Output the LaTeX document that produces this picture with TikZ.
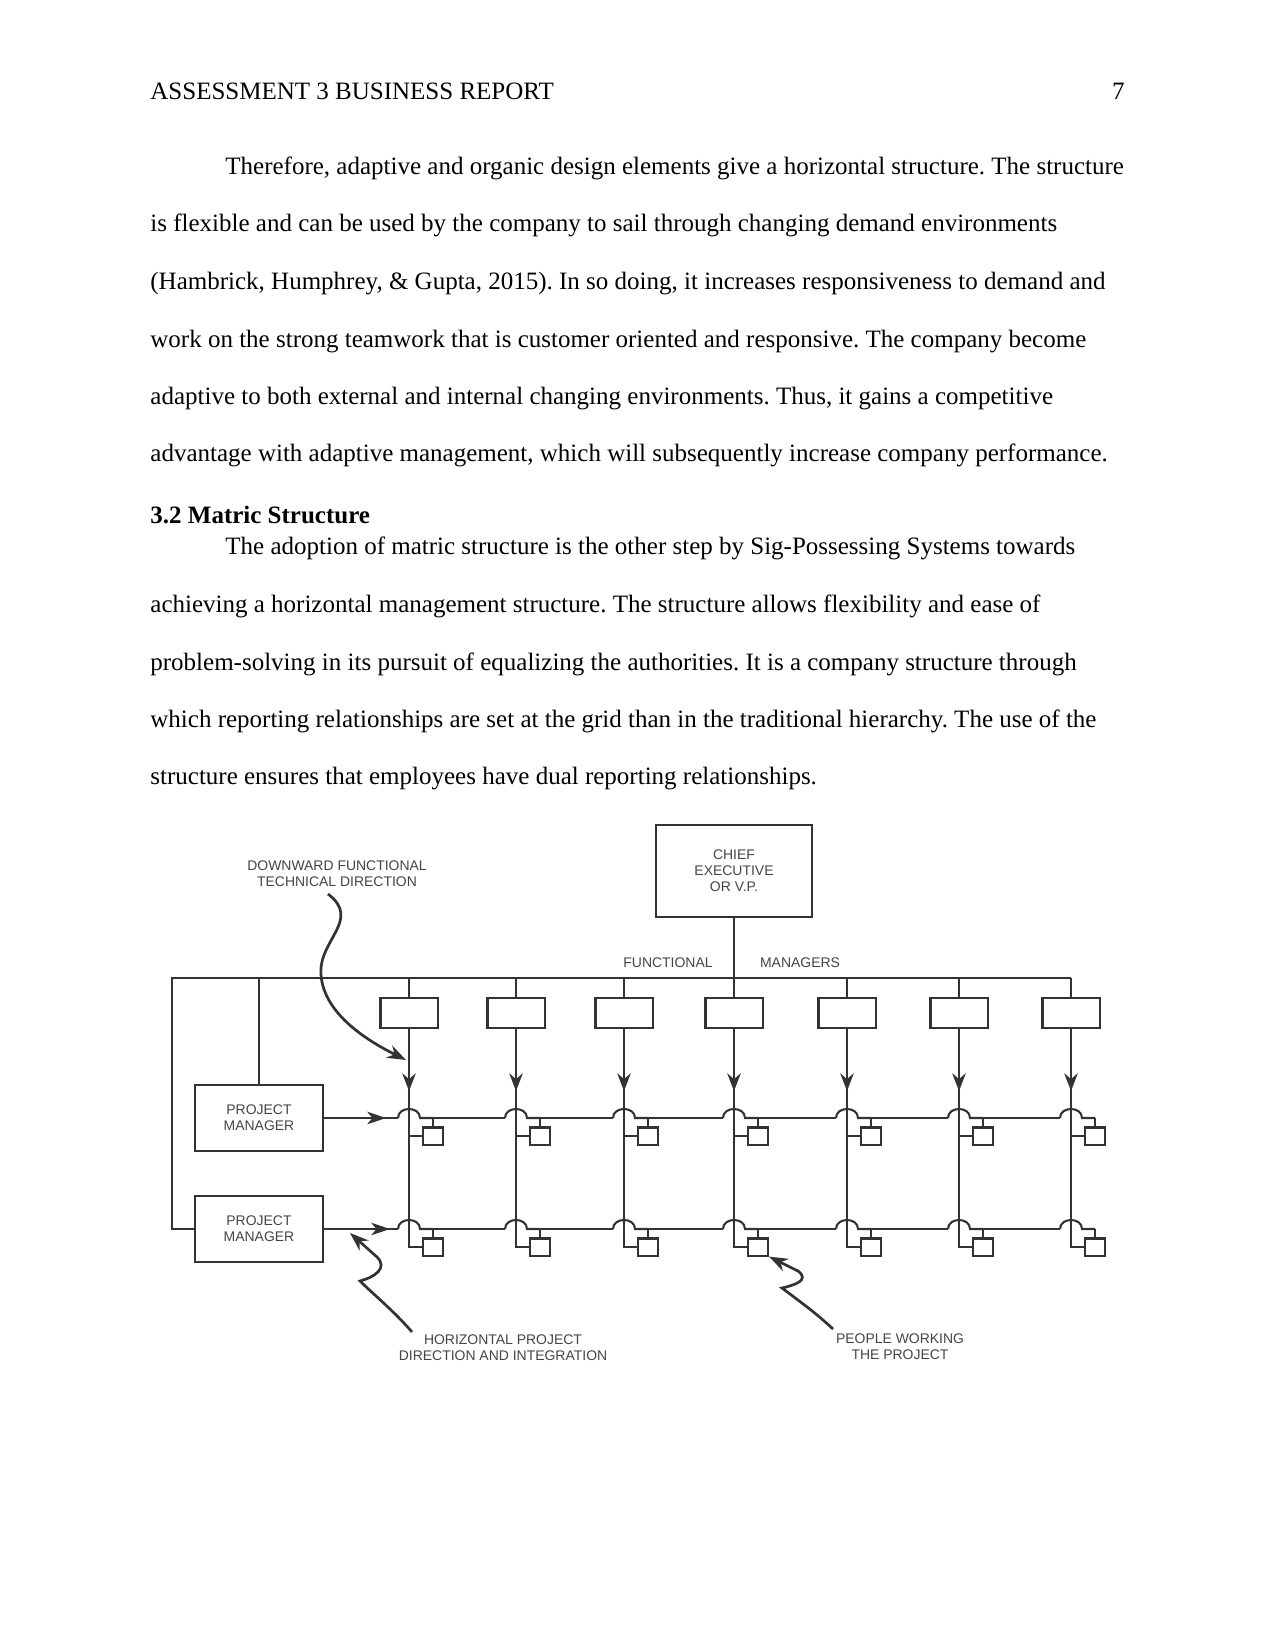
\documentclass[tikz,border=0pt]{standalone}
\usepackage{fontspec}
\setmainfont{Liberation Serif}
\newfontfamily\diagfont{Liberation Sans}
\usetikzlibrary{arrows.meta}
\usetikzlibrary{calc}
\frenchspacing
\definecolor{ink}{HTML}{333333}
\definecolor{inktext}{HTML}{444444}
\tikzset{bodyline/.style={anchor=mid west, inner sep=0pt, font=\fontsize{12}{14}\selectfont}}
\tikzset{inkline/.style={draw=ink, line width=1pt}}
\tikzset{frame/.style={draw=ink, line width=1pt, inner sep=0pt}}
\tikzset{diaglabel/.style={text=inktext, inner sep=0pt, align=center, font=\diagfont\fontsize{6.7}{7.7}\selectfont}}
\tikzset{mgrbox/.style={frame, minimum width=27.4pt, minimum height=14.4pt}}
\tikzset{personbox/.style={frame, minimum width=9.6pt, minimum height=8.2pt}}
\tikzset{pmbox/.style={frame, diaglabel, minimum width=61.4pt, minimum height=31.7pt}}
\tikzset{curvy/.style={draw=ink, line width=1.3pt, -{Stealth[length=9pt,width=6.5pt]}}}

\begin{document}
\begin{tikzpicture}[x=0.48pt, y=-0.48pt]

\useasboundingbox (0,0) rectangle (1275,1650);

% page text
\node[bodyline] (hdr) at (150,94.5) {ASSESSMENT 3 BUSINESS REPORT};
\node[bodyline, anchor=mid east] (pg) at (1125,94.5) {7};

\node[bodyline] (t1) at (225,169.5) {Therefore, adaptive and organic design elements give a horizontal structure. The structure};
\node[bodyline] (t2) at (150,226.5) {is flexible and can be used by the company to sail through changing demand environments};
\node[bodyline] (t3) at (150,284.5) {(Hambrick, Humphrey, \& Gupta, 2015). In so doing, it increases responsiveness to demand and};
\node[bodyline] (t4) at (150,342.5) {work on the strong teamwork that is customer oriented and responsive. The company become};
\node[bodyline] (t5) at (150,399.5) {adaptive to both external and internal changing environments. Thus, it gains a competitive};
\node[bodyline] (t6) at (150,456.5) {advantage with adaptive management, which will subsequently increase company performance.};

\node[bodyline, font=\bfseries\fontsize{12}{14}\selectfont] (sec) at (150,519) {3.2 Matric Structure};
\node[bodyline] (u1) at (225,549.5) {The adoption of matric structure is the other step by Sig-Possessing Systems towards};
\node[bodyline] (u2) at (150,607.5) {achieving a horizontal management structure. The structure allows flexibility and ease of};
\node[bodyline] (u3) at (150,665.5) {problem-solving in its pursuit of equalizing the authorities. It is a company structure through};
\node[bodyline] (u4) at (150,722.5) {which reporting relationships are set at the grid than in the traditional hierarchy. The use of the};
\node[bodyline] (u5) at (150,779.5) {structure ensures that employees have dual reporting relationships.};

% matrix chart
\node[frame, diaglabel, minimum width=74.9pt, minimum height=44.2pt] (ceo) at (734,871) {CHIEF\\EXECUTIVE\\OR V.P.};
\node[diaglabel] (fn) at (668,963) {FUNCTIONAL};
\node[diaglabel] (mg) at (800,963) {MANAGERS};

\node[pmbox] (pm1) at (259,1118) {PROJECT\\MANAGER};
\node[pmbox] (pm2) at (259,1229) {PROJECT\\MANAGER};

\coordinate (tl) at (172,978);
\coordinate (tr) at (1071,978);
\draw[inkline] (pm2.west) -| (tl) -- (tr);
\draw[inkline] (pm1.north) -- (pm1.north |- tl);

\foreach \c [count=\i, remember=\c as \lastc (initially 0)] in {409,516,624,734,847,959,1071}{
  \node[mgrbox] (m\i) at (\c,1013) {};
  \node[personbox] (pa\i) at (\c+24,1136) {};
  \node[personbox] (pb\i) at (\c+24,1247) {};
  \draw[inkline] (m\i.north) -- (m\i.north |- tl);
  \draw[inkline] (m\i.south) |- (pb\i.west);
  \draw[inkline, -{Stealth[length=8.5pt,width=6.5pt]}] (m\i.south) -- ++(0,62);
  \draw[inkline] (pa\i.west) -- (pa\i.west -| m\i.south);
  \draw[inkline] (pa\i.north) -- (pa\i.north |- pm1.east);
  \draw[inkline] (pb\i.north) -- (pb\i.north |- pm2.east);
  \foreach \r in {1118,1229}{
    \draw[inkline] (\c-11,\r) .. controls (\c-11,\r-12) and (\c+11,\r-12) .. (\c+11,\r) -- (\c+24,\r);
    \ifnum\i>1 \draw[inkline] (\lastc+11,\r) -- (\c-11,\r); \fi
  }
}

\draw[inkline] (ceo.south) -- (m4.north);

\draw[inkline] (pm1.east) -- ($(m1.south |- pm1.east)+(-11,0)$);
\draw[inkline] (pm2.east) -- ($(m1.south |- pm2.east)+(-11,0)$);
\draw[inkline, -{Stealth[length=9pt,width=6pt,inset=2.5pt]}] (pm1.east) -- ++(62,0);
\draw[inkline, -{Stealth[length=9pt,width=6pt,inset=2.5pt]}] (pm2.east) -- ++(66,0);

% callouts
\node[diaglabel] (dl) at (337,874) {DOWNWARD FUNCTIONAL\\TECHNICAL DIRECTION};
\node[diaglabel] (hp) at (503,1348) {HORIZONTAL PROJECT\\DIRECTION AND INTEGRATION};
\node[diaglabel] (pw) at (900,1347) {PEOPLE WORKING\\THE PROJECT};

\coordinate (dlstart) at (328,894);
\coordinate (dlend) at (406,1060);
\draw[curvy] (dlstart) .. controls (362,920) and (318,940) .. (321,975) .. controls (324,1015) and (370,1042) .. (dlend);

\coordinate (hpstart) at (412,1332);
\coordinate (hpend) at (350,1233);
\draw[curvy] (hpstart) .. controls (395,1312) and (372,1293) .. (360,1281) .. controls (375,1277) and (388,1268) .. (377,1257) -- (hpend);

\coordinate (pwstart) at (833,1329);
\draw[curvy] (pwstart) .. controls (815,1312) and (795,1298) .. (782,1288) .. controls (795,1285) and (810,1280) .. (798,1271) -- (pb4.south east);

\end{tikzpicture}
\end{document}
